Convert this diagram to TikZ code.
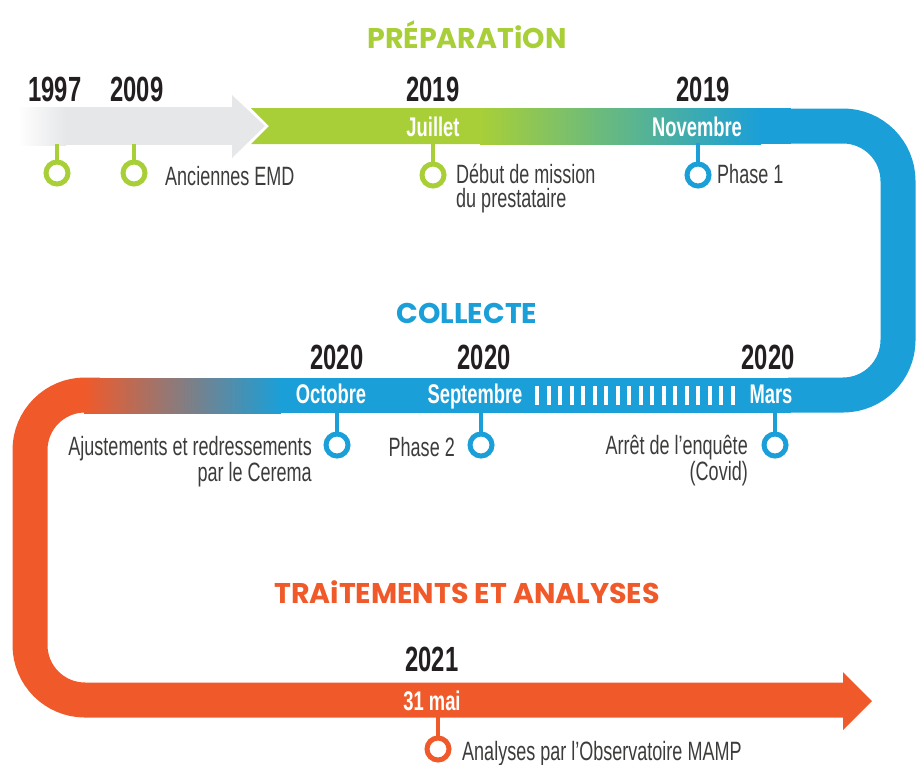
\documentclass[tikz,border=0pt]{standalone}
\usepackage{fontspec}
\setmainfont{Liberation Sans}[FakeStretch=0.68]
\newfontfamily\titlefont{Poppins}
\usetikzlibrary{positioning}

\definecolor{mampgreen}{RGB}{168,207,56}
\definecolor{mampblue}{RGB}{26,159,216}
\definecolor{mamporange}{RGB}{240,90,42}
\definecolor{mampgray}{RGB}{230,231,232}
\definecolor{mampink}{RGB}{35,31,32}
\definecolor{mamptext}{RGB}{60,60,59}

\tikzset{
  year/.style={font=\fontsize{35}{35}\selectfont\bfseries, text=mampink, anchor=base, inner sep=0pt},
  month/.style={font=\fontsize{27}{27}\selectfont\bfseries, text=white, anchor=base, inner sep=0pt},
  infotext/.style={font=\fontsize{26.5}{24}\selectfont, text=mamptext, inner sep=0pt},
  phasetitle/.style={font=\titlefont\fontsize{28.5}{28}\selectfont\bfseries, inner sep=0pt},
  ring/.style={circle, draw=#1, line width=5pt, fill=white, minimum size=22pt, inner sep=0pt},
  stem/.style={draw=#1, line width=4pt}
}

\begin{document}
\begin{tikzpicture}[x=1pt,y=-1pt]
	\useasboundingbox (0,0) rectangle (917,764);
	% ruban gris puis vert
	\shade [left color=white, right color=mampgray] (18,107) rectangle (66,145);
	\fill [mampgray] (65,107) rectangle (233,145);
	\fill [mampgray] (232,95) -- (265,126) -- (232,158) -- cycle;
	\fill [mampgreen] (251,108) -- (481,108) -- (481,144) -- (251,144) -- (269,126) -- cycle;
	\shade [left color=mampgreen, right color=mampblue] (480,108) rectangle (761,144);
	\fill [mampblue] (760,108) rectangle (791,144);
	% boucle bleue
	\draw [mampblue, line width=35pt, rounded corners=55pt] (788,126) -- (898,126) -- (898,395) -- (788,395);
	% boucle orange et fleche
	\draw [mamporange, line width=35pt, rounded corners=55pt] (100,395) -- (30,395) -- (30,700) -- (845,700);
	\fill [mamporange] (843,672) -- (872,701) -- (843,730) -- cycle;
	\fill [mampblue] (280,378) rectangle (791,413);
	\shade [left color=mamporange, right color=mampblue] (84,378) rectangle (281,413);
	\foreach \i in {0,...,17}
		\fill [white] ({535+\i*11.5},386) rectangle +(4,19);

	% titres
	\node [phasetitle, text=mampgreen] (prep) at (467,35) {PRÉPARATiON};
	\node [phasetitle, text=mampblue] (coll) at (467,313) {COLLECTE};
	\node [phasetitle, text=mamporange] (trait) at (467,592) {TRAiTEMENTS ET ANALYSES};

	% annees
	\node [year] (y97) at (55,101) {1997};
	\node [year] (y09) at (137,101) {2009};
	\node [year] (y19a) at (433,101) {2019};
	\node [year] (y19b) at (703,101) {2019};
	\node [year] (y20a) at (337,369) {2020};
	\node [year] (y20b) at (484,369) {2020};
	\node [year] (y20c) at (768,369) {2020};
	\node [year] (y21) at (432,671) {2021};

	% mois
	\node [month] (juil) at (433,136) {Juillet};
	\node [month] (nov) at (697,136) {Novembre};
	\node [month] (oct) at (331,403) {Octobre};
	\node [month] (sep) at (475,403) {Septembre};
	\node [month] (mars) at (771,403) {Mars};
	\node [month] (mai) at (432,710) {31 mai};

	% jalons
	\node [ring=mampgreen] (c97) at (57,173) {};
	\node [ring=mampgreen] (c09) at (134,173) {};
	\node [ring=mampgreen] (cjuil) at (433,175) {};
	\node [ring=mampblue] (cnov) at (698,175) {};
	\node [ring=mampblue] (coct) at (337,445) {};
	\node [ring=mampblue] (csep) at (481,445) {};
	\node [ring=mampblue] (cmars) at (775,445) {};
	\node [ring=mamporange] (cmai) at (438,749) {};
	\coordinate (s97) at (57,144);
	\coordinate (s09) at (134,144);
	\coordinate (sjuil) at (433,143);
	\coordinate (snov) at (698,143);
	\coordinate (soct) at (337,412);
	\coordinate (ssep) at (481,412);
	\coordinate (smars) at (775,412);
	\coordinate (smai) at (438,717);
	\draw [stem=mampgreen] (s97) -- (c97);
	\draw [stem=mampgreen] (s09) -- (c09);
	\draw [stem=mampgreen] (sjuil) -- (cjuil);
	\draw [stem=mampblue] (snov) -- (cnov);
	\draw [stem=mampblue] (soct) -- (coct);
	\draw [stem=mampblue] (ssep) -- (csep);
	\draw [stem=mampblue] (smars) -- (cmars);
	\draw [stem=mamporange] (smai) -- (cmai);

	% textes
	\node [infotext, anchor=base west] (emd) at (165,185) {Anciennes EMD};
	\node [infotext, anchor=base west, align=left] (debut) at (456,207) {Début de mission\\du prestataire};
	\node [infotext, anchor=base west] (ph1) at (717,183) {Phase 1};
	\node [infotext, anchor=base east, align=right] (ajust) at (312,481) {Ajustements et redressements\\par le Cerema};
	\node [infotext, anchor=base east] (ph2) at (455,456) {Phase 2};
	\node [infotext, anchor=base east, align=right] (arret) at (748,480) {Arrêt de l’enquête\\(Covid)};
	\node [infotext, anchor=base west] (analyses) at (462,760) {Analyses par l’Observatoire MAMP};
\end{tikzpicture}
\end{document}
